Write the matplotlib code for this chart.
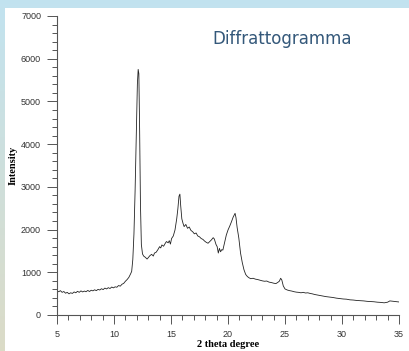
import numpy as np
import matplotlib
matplotlib.use("Agg")
import matplotlib.pyplot as plt
from matplotlib.ticker import MultipleLocator

# 2 theta (deg) and intensity
two_theta = [5.0, 5.15, 5.3, 5.45, 5.6, 5.75, 5.9, 6.05, 6.2, 6.35, 6.5, 6.65, 6.8, 6.95, 7.1,
             7.25, 7.4, 7.55, 7.7, 7.85, 8.0, 8.15, 8.3, 8.45, 8.6, 8.75, 8.9, 9.05, 9.2, 9.35,
             9.5, 9.65, 9.8, 9.95, 10.1, 10.25, 10.4, 10.55, 10.7, 10.85, 11.0, 11.15, 11.3,
             11.45, 11.55, 11.65, 11.75, 11.85, 11.95, 12.05, 12.12, 12.18, 12.25, 12.32, 12.4,
             12.5, 12.6, 12.75, 12.9, 13.0, 13.15, 13.3, 13.45, 13.55, 13.7, 13.85, 14.0, 14.1,
             14.2, 14.35, 14.5, 14.6, 14.75, 14.85, 14.95, 15.05, 15.2, 15.35, 15.5, 15.6, 15.7,
             15.78, 15.85, 15.95, 16.05, 16.15, 16.3, 16.45, 16.6, 16.75, 16.9, 17.05, 17.2,
             17.35, 17.5, 17.65, 17.8, 17.95, 18.1, 18.25, 18.4, 18.55, 18.7, 18.8, 18.95, 19.05,
             19.15, 19.25, 19.35, 19.45, 19.55, 19.7, 19.85, 20.0, 20.15, 20.3, 20.45, 20.55,
             20.62, 20.7, 20.8, 20.95, 21.1, 21.25, 21.4, 21.55, 21.7, 21.85, 22.0, 22.2, 22.4,
             22.6, 22.8, 23.0, 23.2, 23.4, 23.6, 23.8, 24.0, 24.2, 24.35, 24.5, 24.62, 24.72,
             24.85, 25.0, 25.2, 25.4, 25.6, 25.8, 26.0, 26.2, 26.4, 26.6, 26.8, 27.0, 27.2, 27.4,
             27.6, 27.8, 28.0, 28.3, 28.6, 28.9, 29.2, 29.5, 29.8, 30.1, 30.4, 30.7, 31.0, 31.3,
             31.6, 31.9, 32.2, 32.5, 32.8, 33.1, 33.4, 33.7, 34.0, 34.2, 34.5, 34.8, 35.0]
intensity = [560, 545, 570, 530, 550, 510, 530, 495, 520, 505, 540, 520, 555, 530, 565,
             540, 560, 545, 575, 550, 580, 565, 590, 570, 600, 585, 615, 595, 630, 610,
             640, 620, 655, 635, 660, 650, 690, 675, 720, 740, 790, 830, 880,
             960, 1020, 1300, 1900, 2900, 4200, 5400, 5750, 5650, 4300, 2600, 1650,
             1430, 1380, 1350, 1310, 1340, 1390, 1420, 1380, 1450, 1470, 1530, 1600, 1570,
             1640, 1610, 1680, 1720, 1690, 1740, 1660, 1790, 1850, 1990, 2250, 2480, 2780,
             2830, 2560, 2250, 2150, 2070, 2120, 2030, 2060, 1980, 1950, 1900, 1920,
             1850, 1830, 1790, 1770, 1730, 1700, 1680, 1720, 1760, 1810, 1780, 1650, 1600,
             1450, 1560, 1480, 1530, 1520, 1700, 1870, 1990, 2080, 2180, 2290, 2340,
             2380, 2280, 2050, 1800, 1450, 1230, 1060, 950, 900, 870, 850, 860, 840,
             830, 815, 800, 790, 795, 770, 760, 745, 735, 760, 790, 860, 820,
             680, 610, 585, 570, 560, 545, 535, 530, 520, 530, 515, 520, 505, 495,
             480, 470, 460, 445, 430, 420, 410, 395, 385, 375, 370, 355, 350, 340,
             335, 330, 320, 315, 310, 300, 295, 285, 300, 330, 320, 310, 305]

xlabel = "2 theta degree"
ylabel = "Intensity"
title = "Diffrattogramma"

W, H = 409, 351
fig = plt.figure(figsize=(W / 100, H / 100), dpi=100)

# slide background: pale blue gradient with white panel
bg = fig.add_axes([0, 0, 1, 1], zorder=0)
bg.set_axis_off()
top = np.array([0.76, 0.89, 0.94])
bottom = np.array([0.86, 0.86, 0.78])
t = np.linspace(0, 1, 100)[:, None, None]
grad = top * (1 - t) + bottom * t
bg.imshow(np.repeat(grad, 4, axis=1), aspect="auto", extent=[0, 1, 0, 1])
bg.add_patch(plt.Rectangle((5 / W, 0), 1, 1 - 8 / H, facecolor="white",
                           edgecolor="none", transform=bg.transAxes))
bg.set_xlim(0, 1)
bg.set_ylim(0, 1)

ax = fig.add_axes([57 / W, 36 / H, (399 - 57) / W, (335 - 36) / H], zorder=1)
ax.patch.set_alpha(0)
ax.plot(two_theta, intensity, color="#222222", lw=0.6)

ax.set_xlim(5, 35)
ax.set_ylim(0, 7000)
ax.xaxis.set_major_locator(MultipleLocator(5))
ax.xaxis.set_minor_locator(MultipleLocator(1))
ax.yaxis.set_major_locator(MultipleLocator(1000))
ax.yaxis.set_minor_locator(MultipleLocator(200))
for s in ["top", "right"]:
    ax.spines[s].set_visible(False)
for s in ["left", "bottom"]:
    ax.spines[s].set_color("#555555")
    ax.spines[s].set_linewidth(0.8)
ax.tick_params(which="major", length=7.5, width=0.7, color="#555555",
               labelsize=6.5, labelcolor="#333333", pad=4)
ax.tick_params(which="minor", length=3.8, width=0.7, color="#555555")
ax.tick_params(axis="x", which="major", length=6.5, pad=4)
ax.tick_params(axis="x", which="minor", length=3.5)
for lab in ax.get_xticklabels() + ax.get_yticklabels():
    lab.set_family("Liberation Sans")

ax.set_xlabel(xlabel, fontsize=7.5, fontweight="bold", family="Liberation Serif", labelpad=1)
ax.set_ylabel(ylabel, fontsize=7.5, fontweight="bold", family="Liberation Serif", labelpad=2)

fig.text(212 / W, 1 - 39 / H, title, fontsize=12, color="#34587a",
         family="DejaVu Sans", ha="left", va="center")

fig.savefig("out.png", dpi=100)
